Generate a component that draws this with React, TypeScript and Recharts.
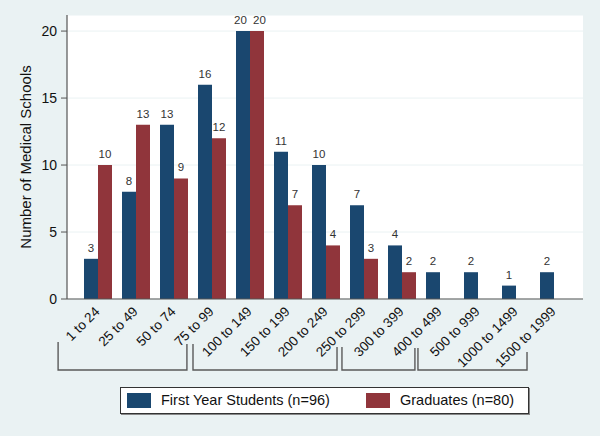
import React from "react";
import { BarChart, Bar, XAxis, YAxis, CartesianGrid, LabelList, Label } from "recharts";

const categories = [
  "1 to 24", "25 to 49", "50 to 74", "75 to 99", "100 to 149", "150 to 199",
  "200 to 249", "250 to 299", "300 to 399", "400 to 499", "500 to 999",
  "1000 to 1499", "1500 to 1999",
];
const firstYear = [3, 8, 13, 16, 20, 11, 10, 7, 4, 2, 2, 1, 2];
const graduates: (number | null)[] = [10, 13, 9, 12, 20, 7, 4, 3, 2, null, null, null, null];
const yTicks = [0, 5, 10, 15, 20];
const seriesNames = ["First Year Students (n=96)", "Graduates (n=80)"];
const seriesColors = ["#1a476f", "#90353b"];

// bracket groups, in category-index units (start, end) and top offsets
const bracketStart = [-1.05, 2.5, 6.42, 8.42];
const bracketEnd = [2.34, 6.29, 8.34, 11.29];
const bracketTopL = [342, 344, 347, 348];
const bracketTopR = [344, 347, 348, 352];

const data = categories.map((c, i) => ({ cat: c, first: firstYear[i], grad: graduates[i] }));

const W = 600;
const H = 436;
const BG = "#eaf2f3";
const FONT = "'Liberation Sans', Arial, Helvetica, sans-serif";
const PLOT_LEFT = 67;
const PLOT_RIGHT = 583;
const PLOT_TOP = 15;
const PLOT_BOTTOM = 299;
const PAD_L = 12;
const PAD_R = 10;
const BAND = (PLOT_RIGHT - PLOT_LEFT - PAD_L - PAD_R) / categories.length;
const cx = (i: number) => PLOT_LEFT + PAD_L + BAND * (i + 0.5);

const XTick = (props: any) => {
  const { x, y, payload } = props;
  return (
    <g transform={`translate(${x + 2.5},${y + 13.5})`}>
      <text
        transform="rotate(-45)"
        textAnchor="end"
        fontSize={13.5}
        fill="#111"
        fontFamily={FONT}
      >
        {payload.value}
      </text>
    </g>
  );
};

const makeValueLabel = (side: number) => (props: any) => {
  const { x, y, width, value, index } = props;
  if (value === null || value === undefined) return null;
  const tie = firstYear[index] === graduates[index];
  const shift = tie ? side * 2.5 : 0;
  return (
    <text
      x={Number(x) + Number(width) / 2 + shift}
      y={Number(y) - 7}
      textAnchor="middle"
      fontSize={11.5}
      fill="#333"
      fontFamily={FONT}
    >
      {value}
    </text>
  );
};

const YTitle = (props: any) => {
  const vb = props.viewBox || { x: 0, y: PLOT_TOP, width: 67, height: PLOT_BOTTOM - PLOT_TOP };
  const x = vb.x + 25;
  const y = vb.y + vb.height / 2;
  return (
    <text
      x={x}
      y={y}
      transform={`rotate(-90, ${x}, ${y})`}
      textAnchor="middle"
      dominantBaseline="central"
      fontSize={15}
      fill="#111"
      fontFamily={FONT}
    >
      Number of Medical Schools
    </text>
  );
};

export default function App() {
  return (
    <div style={{ position: "absolute", left: 0, top: 0, width: W, height: H, background: BG, fontFamily: FONT }}>
      <BarChart
        width={W}
        height={H}
        data={data}
        margin={{ top: PLOT_TOP, right: W - PLOT_RIGHT, bottom: 0, left: 0 }}
        barCategoryGap={5}
        barGap={0}
      >
        <CartesianGrid vertical={false} stroke={BG} strokeWidth={1} fill="#ffffff" fillOpacity={1} />
        <XAxis
          dataKey="cat"
          height={H - PLOT_BOTTOM}
          padding={{ left: PAD_L, right: PAD_R }}
          tickLine={false}
          tickSize={0}
          tickMargin={0}
          interval={0}
          axisLine={{ stroke: "#555", strokeWidth: 1.2 }}
          tick={<XTick />}
        />
        <YAxis
          width={PLOT_LEFT}
          domain={[0, 21.2]}
          ticks={yTicks}
          allowDataOverflow
          tickSize={6}
          tickMargin={4}
          axisLine={{ stroke: "#555", strokeWidth: 1.2 }}
          tickLine={{ stroke: "#555", strokeWidth: 1 }}
          tick={{ fontSize: 14, fill: "#111", fontFamily: FONT }}
        >
          <Label content={<YTitle />} />
        </YAxis>
        <Bar dataKey="first" fill={seriesColors[0]} isAnimationActive={false}>
          <LabelList dataKey="first" content={makeValueLabel(-1)} />
        </Bar>
        <Bar dataKey="grad" fill={seriesColors[1]} isAnimationActive={false}>
          <LabelList dataKey="grad" content={makeValueLabel(1)} />
        </Bar>
      </BarChart>
      <svg
        width={W}
        height={H}
        style={{ position: "absolute", left: 0, top: 0, pointerEvents: "none" }}
      >
        {bracketStart.map((s, k) => {
          const x1 = cx(s);
          const x2 = cx(bracketEnd[k]);
          return (
            <polyline
              key={k}
              points={`${x1},${bracketTopL[k]} ${x1},370 ${x2},370 ${x2},${bracketTopR[k]}`}
              fill="none"
              stroke="#5a5a5a"
              strokeWidth={1.4}
            />
          );
        })}
      </svg>
      <div
        style={{
          position: "absolute",
          left: 120,
          top: 387,
          width: 407,
          height: 25,
          background: "#fff",
          border: "1px solid #333",
          boxShadow: "1px 1px 0 #888",
        }}
      >
        {seriesNames.map((n, i) => (
          <div
            key={n}
            style={{
              position: "absolute",
              left: i === 0 ? 6 : 245,
              top: 5,
              display: "flex",
              alignItems: "center",
              whiteSpace: "nowrap",
            }}
          >
            <div style={{ width: 24, height: 15, background: seriesColors[i] }} />
            <span style={{ marginLeft: 10, fontSize: 14.5, color: "#111", lineHeight: "15px" }}>{n}</span>
          </div>
        ))}
      </div>
    </div>
  );
}
